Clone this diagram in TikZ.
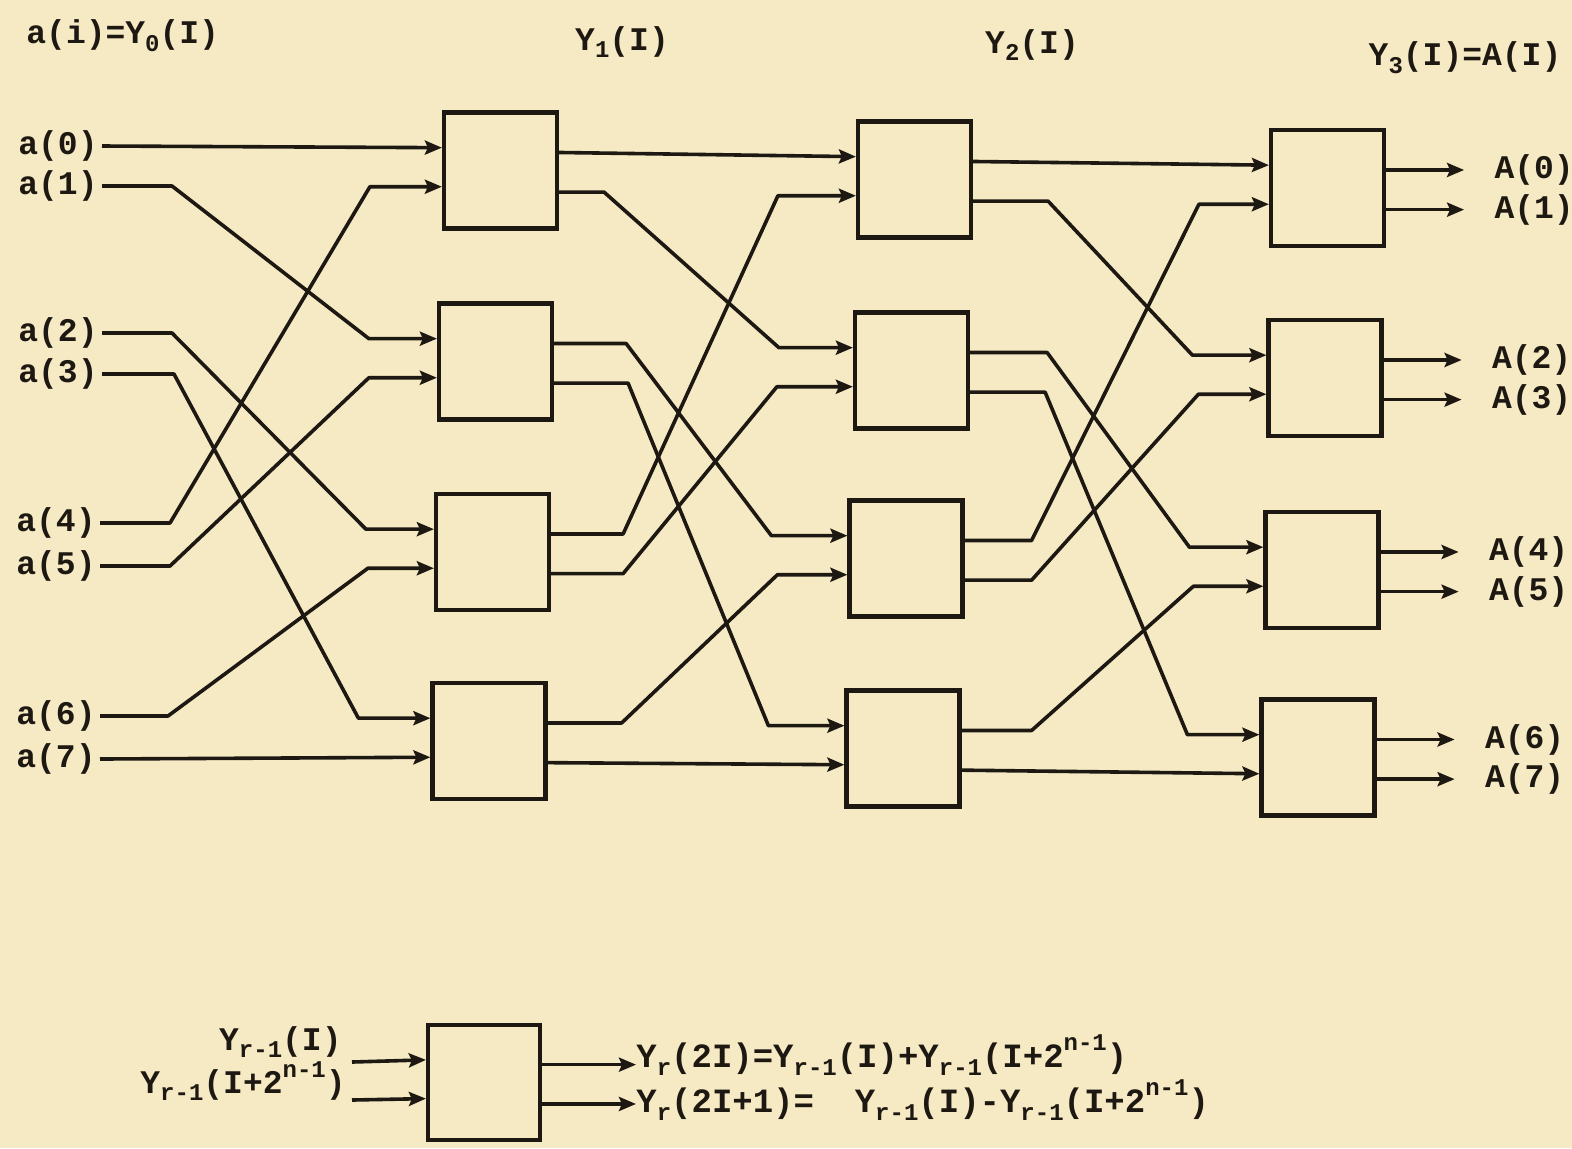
\documentclass[tikz,border=0pt]{standalone}
\usepackage{fontspec}
\setmonofont{Liberation Mono}
\usetikzlibrary{calc,arrows.meta}
\definecolor{paper}{RGB}{245,234,196}
\definecolor{ink}{RGB}{30,24,18}
\newcommand\mysub[1]{\raisebox{-0.45ex}{\fontsize{12}{12}\selectfont #1}}
\newcommand\mysup[1]{\raisebox{0.9ex}{\fontsize{12}{12}\selectfont #1}}
\begin{document}
\begin{tikzpicture}[x=0.5pt,y=-0.5pt,
  box/.style={draw=ink, line width=2.1pt, minimum width=56.5pt, minimum height=58pt, inner sep=0pt},
  wire/.style={draw=ink, line width=1.8pt, line join=round, -{Stealth[length=8.5pt,width=7pt,inset=1.5pt]}},
  lab/.style={text=ink, font=\ttfamily\bfseries\fontsize{16.5}{18}\selectfont, inner sep=2pt},
  big/.style={text=ink, font=\ttfamily\bfseries\fontsize{17}{19}\selectfont, inner sep=0pt},
]
\useasboundingbox[fill=paper] (0,0) rectangle (1572,1148);

% boxes
\node[box] (c1b0) at (500.5,170.5) {};
\node[box] (c1b1) at (495.5,361.5) {};
\node[box] (c1b2) at (492.5,552) {};
\node[box] (c1b3) at (489,741) {};
\node[box] (c2b0) at (914.5,179.5) {};
\node[box] (c2b1) at (911.5,370.5) {};
\node[box] (c2b2) at (906,558.5) {};
\node[box] (c2b3) at (903,748.5) {};
\node[box] (c3b0) at (1327.5,188) {};
\node[box] (c3b1) at (1325,378) {};
\node[box] (c3b2) at (1322,570) {};
\node[box] (c3b3) at (1318,757.5) {};
\node[box, minimum width=56pt, minimum height=57.5pt] (lg) at (484,1082.5) {};

\foreach \b in {c1b0,c1b1,c1b2,c1b3,c2b0,c2b1,c2b2,c2b3,c3b0,c3b1,c3b2,c3b3,lg}{
  \coordinate (\b i1) at ($(\b.north west)!0.31!(\b.south west)$);
  \coordinate (\b i2) at ($(\b.north west)!0.635!(\b.south west)$);
  \coordinate (\b o1) at ($(\b.north east)!0.35!(\b.south east)$);
  \coordinate (\b o2) at ($(\b.north east)!0.68!(\b.south east)$);
}

% headers
\node[lab,anchor=west] (h0) at (22,36) {a(i)=Y\mysub{0}(I)};
\node[lab] (h1) at (622,42) {Y\mysub{1}(I)};
\node[lab] (h2) at (1032,45) {Y\mysub{2}(I)};
\node[lab] (h3) at (1465,58) {Y\mysub{3}(I)=A(I)};

% inputs
\node[lab,anchor=east] (a0) at (102,146) {a(0)};
\node[lab,anchor=east] (a1) at (102,186) {a(1)};
\node[lab,anchor=east] (a2) at (102,333) {a(2)};
\node[lab,anchor=east] (a3) at (102,374) {a(3)};
\node[lab,anchor=east] (a4) at (100,523) {a(4)};
\node[lab,anchor=east] (a5) at (100,566) {a(5)};
\node[lab,anchor=east] (a6) at (100,716) {a(6)};
\node[lab,anchor=east] (a7) at (100,759) {a(7)};

% stage 1
\draw[wire] (a0.east) -- (c1b0i1);
\draw[wire] (a1.east) -- ++(70,0) -- ([xshift=-34pt]c1b1i1) -- (c1b1i1);
\draw[wire] (a2.east) -- ++(70,0) -- ([xshift=-34pt]c1b2i1) -- (c1b2i1);
\draw[wire] (a3.east) -- ++(72,0) -- ([xshift=-36pt]c1b3i1) -- (c1b3i1);
\draw[wire] (a4.east) -- ++(70,0) -- ([xshift=-36pt]c1b0i2) -- (c1b0i2);
\draw[wire] (a5.east) -- ++(70,0) -- ([xshift=-34pt]c1b1i2) -- (c1b1i2);
\draw[wire] (a6.east) -- ++(68,0) -- ([xshift=-33pt]c1b2i2) -- (c1b2i2);
\draw[wire] (a7.east) -- (c1b3i2);

% stage 2
\draw[wire] (c1b0o1) -- (c2b0i1);
\draw[wire] (c1b0o2) -- ++(45,0) -- ([xshift=-37pt]c2b1i1) -- (c2b1i1);
\draw[wire] (c1b1o1) -- ++(72,0) -- ([xshift=-38pt]c2b2i1) -- (c2b2i1);
\draw[wire] (c1b1o2) -- ++(74,0) -- ([xshift=-38pt]c2b3i1) -- (c2b3i1);
\draw[wire] (c1b2o1) -- ++(72,0) -- ([xshift=-39pt]c2b0i2) -- (c2b0i2);
\draw[wire] (c1b2o2) -- ++(72,0) -- ([xshift=-38pt]c2b1i2) -- (c2b1i2);
\draw[wire] (c1b3o1) -- ++(74,0) -- ([xshift=-35pt]c2b2i2) -- (c2b2i2);
\draw[wire] (c1b3o2) -- (c2b3i2);

% stage 3
\draw[wire] (c2b0o1) -- (c3b0i1);
\draw[wire] (c2b0o2) -- ++(75,0) -- ([xshift=-37pt]c3b1i1) -- (c3b1i1);
\draw[wire] (c2b1o1) -- ++(77,0) -- ([xshift=-37pt]c3b2i1) -- (c3b2i1);
\draw[wire] (c2b1o2) -- ++(75,0) -- ([xshift=-36pt]c3b3i1) -- (c3b3i1);
\draw[wire] (c2b2o1) -- ++(67,0) -- ([xshift=-35pt]c3b0i2) -- (c3b0i2);
\draw[wire] (c2b2o2) -- ++(67,0) -- ([xshift=-34pt]c3b1i2) -- (c3b1i2);
\draw[wire] (c2b3o1) -- ++(70,0) -- ([xshift=-35pt]c3b2i2) -- (c3b2i2);
\draw[wire] (c2b3o2) -- (c3b3i2);

% outputs
\node[lab,anchor=west,xshift=52pt] (A0) at (c3b0o1) {A(0)};
\node[lab,anchor=west,xshift=52pt] (A1) at (c3b0o2) {A(1)};
\node[lab,anchor=west,xshift=52pt] (A2) at (c3b1o1) {A(2)};
\node[lab,anchor=west,xshift=52pt] (A3) at (c3b1o2) {A(3)};
\node[lab,anchor=west,xshift=52pt] (A4) at (c3b2o1) {A(4)};
\node[lab,anchor=west,xshift=52pt] (A5) at (c3b2o2) {A(5)};
\node[lab,anchor=west,xshift=52pt] (A6) at (c3b3o1) {A(6)};
\node[lab,anchor=west,xshift=52pt] (A7) at (c3b3o2) {A(7)};
\foreach \k/\p in {0/c3b0o1,1/c3b0o2,2/c3b1o1,3/c3b1o2,4/c3b2o1,5/c3b2o2,6/c3b3o1,7/c3b3o2}{
  \draw[wire, shorten >=13pt] (\p) -- (A\k.west);
}

% legend
\node[lab,anchor=base east,inner sep=0pt] (li1) at (342,1050) {Y\mysub{r-1}(I)};
\node[lab,anchor=base west,inner sep=0pt] (li2) at (140,1093) {Y\mysub{r-1}(I+2\mysup{n-1})};
\coordinate (ls1) at (352,1062);
\coordinate (ls2) at (352,1100);
\draw[wire] (ls1) -- (lgi1);
\draw[wire] (ls2) -- (lgi2);
\node[big,anchor=base west] (t1) at (636,1067) {Y\mysub{r}(2I)=Y\mysub{r-1}(I)+Y\mysub{r-1}(I+2\mysup{n-1})};
\node[big,anchor=base west] (t2) at (636,1112) {Y\mysub{r}(2I+1)=\ \ Y\mysub{r-1}(I)-Y\mysub{r-1}(I+2\mysup{n-1})};
\draw[wire] (lgo1) -- (t1.west |- lgo1);
\draw[wire] (lgo2) -- (t2.west |- lgo2);
\end{tikzpicture}
\end{document}
